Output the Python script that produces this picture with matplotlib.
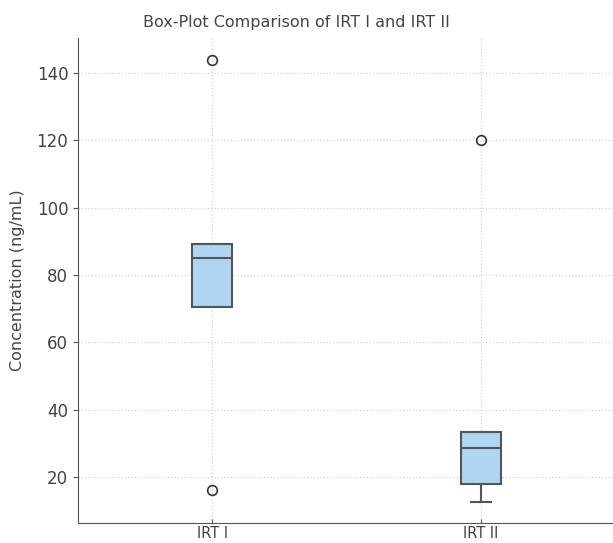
import matplotlib
matplotlib.use("Agg")
import matplotlib.pyplot as plt

categories = ["IRT I", "IRT II"]
whisker_low = [70.5, 12.6]
q1 = [70.5, 18.0]
median = [85.0, 28.6]
q3 = [89.2, 33.4]
whisker_high = [89.2, 33.4]
outliers = [[144.0, 16.0], [120.0]]

stats = []
for i, c in enumerate(categories):
    stats.append(dict(label=c, whislo=whisker_low[i], q1=q1[i], med=median[i],
                      q3=q3[i], whishi=whisker_high[i], fliers=outliers[i]))

W, H = 613, 543
fig = plt.figure(figsize=(W / 100, H / 100), dpi=100)
ax_left, ax_right, ax_top, ax_bottom = 78, 615, 38, 523
ax = fig.add_axes([ax_left / W, 1 - ax_bottom / H, (ax_right - ax_left) / W, (ax_bottom - ax_top) / H])
edge = "#555555"
ax.bxp(stats, positions=[1, 2], widths=0.15, patch_artist=True,
       boxprops=dict(facecolor="#aed6f1", edgecolor=edge, linewidth=1.5),
       medianprops=dict(color=edge, linewidth=1.5),
       whiskerprops=dict(color=edge, linewidth=1.5),
       capprops=dict(color=edge, linewidth=1.5),
       flierprops=dict(marker="o", markerfacecolor="none", markeredgecolor="#333333",
                       markersize=7, markeredgewidth=1.2))
ax.set_xlim(0.5, 2.5)
ax.set_ylim(6.3, 150.4)
ax.set_yticks([20, 40, 60, 80, 100, 120, 140])
ax.grid(True, linestyle=":", color="#d5d5d5", linewidth=0.9)
ax.set_axisbelow(True)
for s in ["top", "right"]:
    ax.spines[s].set_visible(False)
for s in ["left", "bottom"]:
    ax.spines[s].set_color(edge)
ax.tick_params(colors=edge, labelcolor="#444444", labelsize=12)
ax.tick_params(axis="x", direction="in", length=3, pad=2, labelsize=10.5)
ax.set_ylabel("Concentration (ng/mL)", fontsize=11.5, color="#444444", labelpad=8)
title_x = (296 - ax_left) / (ax_right - ax_left)
ax.set_title("Box-Plot Comparison of IRT I and IRT II", fontsize=11.5, color="#444444",
             pad=8, x=title_x)
fig.savefig("out.png", dpi=100)
